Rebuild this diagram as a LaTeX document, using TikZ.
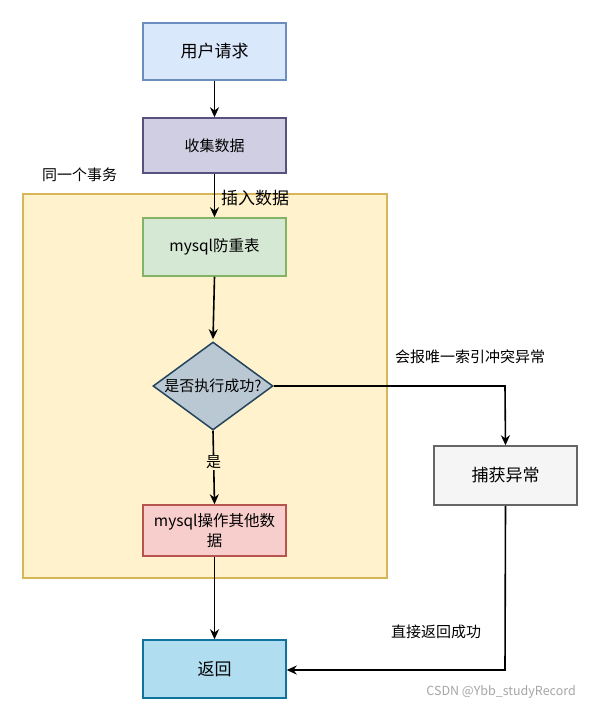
\documentclass[tikz,border=0pt]{standalone}
\usepackage{fontspec}
\setmainfont{Noto Sans CJK SC}
\usetikzlibrary{shapes.geometric,arrows.meta}
\definecolor{bluef}{HTML}{DAE8FC}\definecolor{blued}{HTML}{6C8EBF}
\definecolor{purf}{HTML}{D0CEE2}\definecolor{purd}{HTML}{56517E}
\definecolor{yelf}{HTML}{FFF2CC}\definecolor{yeld}{HTML}{D6B656}
\definecolor{grnf}{HTML}{D5E8D4}\definecolor{grnd}{HTML}{82B366}
\definecolor{gryf}{HTML}{BAC8D3}\definecolor{gryd}{HTML}{23445D}
\definecolor{redf}{HTML}{F8CECC}\definecolor{redd}{HTML}{B85450}
\definecolor{cyaf}{HTML}{B1DDF0}\definecolor{cyad}{HTML}{10739E}
\definecolor{lgf}{HTML}{F5F5F5}\definecolor{lgd}{HTML}{666666}
\begin{document}
\begin{tikzpicture}[x=1pt,y=-1pt,
  box/.style={draw,line width=1.5pt,minimum width=143pt,inner sep=0pt,align=center,font=\fontsize{15}{18}\selectfont},
  lbl/.style={inner sep=1pt,font=\fontsize{15}{18}\selectfont},
  arr/.style={-{Stealth[length=10pt,width=9pt]},line width=1.6pt}]
\useasboundingbox (0,0) rectangle (590,709);
\fill[white] (0,0) rectangle (590,709);
\node[draw=yeld,fill=yelf,line width=1.4pt,minimum width=364pt,minimum height=384pt,inner sep=0pt] (tx) at (205,386) {};
\node[box,draw=blued,fill=bluef,minimum height=57pt,font=\fontsize{17}{20}\selectfont] (req) at (214.5,51.5) {用户请求};
\node[box,draw=purd,fill=purf,minimum height=55pt] (col) at (214.5,145.5) {收集数据};
\node[box,draw=grnd,fill=grnf,minimum height=58pt,font=\fontsize{15.5}{18}\selectfont] (tbl) at (214.5,247) {mysql防重表};
\node[diamond,draw=gryd,fill=gryf,line width=1.5pt,minimum width=120pt,minimum height=88pt,inner sep=0pt,aspect=1.36] (dec) at (213,386) {};
\node[font=\fontsize{15}{18}\selectfont] at (dec.center) {是否执行成功?};
\node[box,draw=redd,fill=redf,minimum height=51pt,text width=140pt,font=\fontsize{15.5}{20}\selectfont] (op) at (214.5,530.5) {mysql操作其他数\\据};
\node[box,draw=cyad,fill=cyaf,minimum height=58pt,font=\fontsize{17}{20}\selectfont] (ret) at (214.5,669) {返回};
\node[box,draw=lgd,fill=lgf,minimum height=59pt,font=\fontsize{17}{20}\selectfont] (exc) at (505.5,475.5) {捕获异常};
\node[lbl,anchor=west] (txl) at (41,175) {同一个事务};
\node[lbl,anchor=west,font=\fontsize{17}{20}\selectfont] (ins) at (220,198) {插入数据};
\node[lbl,anchor=west] (err) at (394,357) {会报唯一索引冲突异常};
\node[lbl,anchor=west] (dir) at (390,632) {直接返回成功};
\node[anchor=east,inner sep=0pt,text=gray!70,font=\fontsize{12.5}{15}\selectfont] (wm) at (576,692) {CSDN @Ybb\_studyRecord};
\coordinate (c1) at (505,386);
\coordinate (c2) at (505,670);
\draw[arr] (req) -- (col);
\draw[arr] (col) -- (tbl);
\draw[arr] (tbl.south) -- ([yshift=2pt]dec.north);
\draw[arr] (dec.south) -- node[fill=yelf,inner sep=1pt,font=\fontsize{15}{18}\selectfont,pos=0.43]{是} (op.north);
\draw[arr] (op) -- (ret);
\draw[arr] (dec.east) -- (c1) -- (exc.north);
\draw[arr] (exc.south) -- (c2) -- (ret.east |- c2);
\end{tikzpicture}
\end{document}
